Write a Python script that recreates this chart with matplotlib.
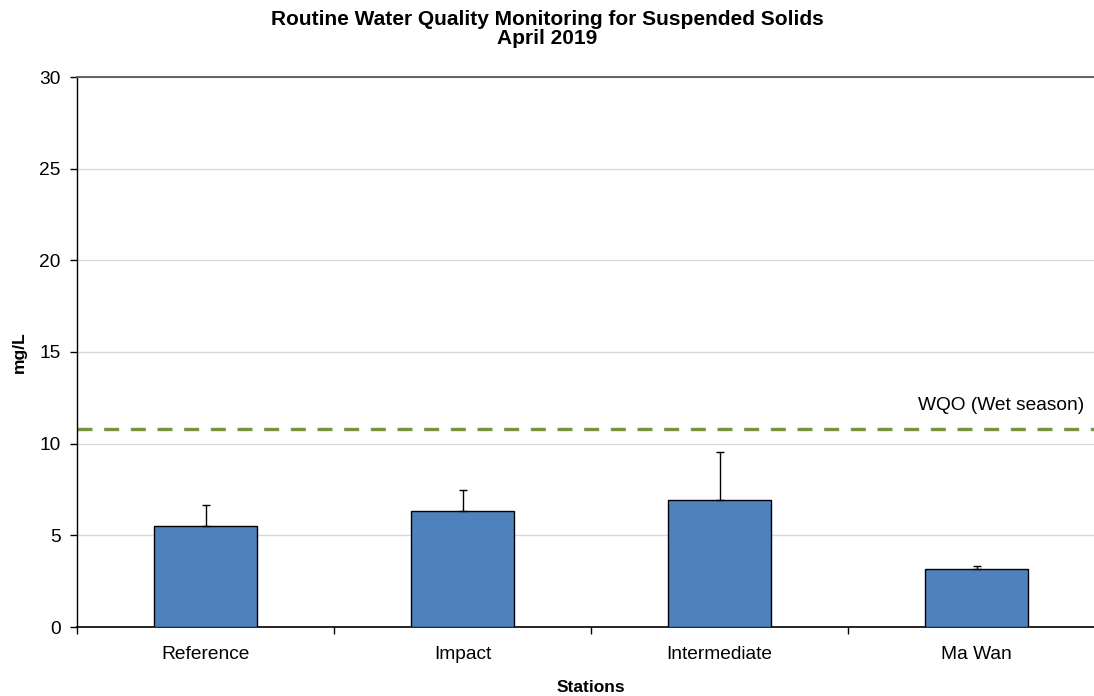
import numpy as np
import matplotlib.pyplot as plt

plt.rcParams['font.family'] = ['Liberation Sans', 'DejaVu Sans']

stations = ['Reference', 'Impact', 'Intermediate', 'Ma Wan']
mean_ss = [5.49, 6.33, 6.95, 3.16]
err_up = [1.18, 1.14, 2.58, 0.15]
wqo = 10.8
yticks = [0, 5, 10, 15, 20, 25, 30]

fig = plt.figure(figsize=(10.94, 6.96), dpi=100)
ax = fig.add_axes([77.2/1094, 69/696, 1028/1094, 550/696])

x = np.arange(len(stations))
ax.bar(x, mean_ss, width=0.4, color='#4F81BD', edgecolor='black', linewidth=1.0, zorder=3)
ax.errorbar(x, mean_ss, yerr=[np.zeros(len(err_up)), err_up], fmt='none',
            ecolor='black', elinewidth=1.0, capsize=3, capthick=1.0, zorder=4)

wqo_line = ax.axhline(wqo, color='#77933C', linewidth=2.4, zorder=2)
wqo_line.set_dashes((4.5, 3.5))
ax.text(3.42, 12.1, 'WQO (Wet season)', ha='right', va='center', fontsize=13.8)

ax.set_xlim(-0.5, 3.5)
ax.set_ylim(0, 30)
ax.set_yticks(yticks)
ax.yaxis.grid(True, color='#D9D9D9', linewidth=1.0, zorder=0)
ax.set_axisbelow(True)

ax.set_xticks(x)
ax.set_xticklabels(stations, fontsize=13.8)
ax.tick_params(axis='x', length=0, pad=14)
ax.set_xticks(np.arange(len(stations) + 1) - 0.5, minor=True)
ax.tick_params(axis='x', which='minor', length=5, width=1, direction='out')
ax.tick_params(axis='y', labelsize=13.8, length=5, width=1, direction='out', pad=7)

ax.spines['right'].set_visible(False)
ax.spines['top'].set_color('#595959')
ax.spines['top'].set_linewidth(1.3)
ax.spines['left'].set_linewidth(1.0)
ax.spines['bottom'].set_linewidth(1.2)

ax.set_ylabel('mg/L', fontsize=12.5, fontweight='bold', labelpad=9)
ax.set_xlabel('Stations', fontsize=12.5, fontweight='bold', labelpad=12)
fig.text(0.5, 0.985, 'Routine Water Quality Monitoring for Suspended Solids\nApril 2019',
         ha='center', va='top', fontsize=15, fontweight='bold', linespacing=1.0)

fig.savefig('out.png', dpi=100)
